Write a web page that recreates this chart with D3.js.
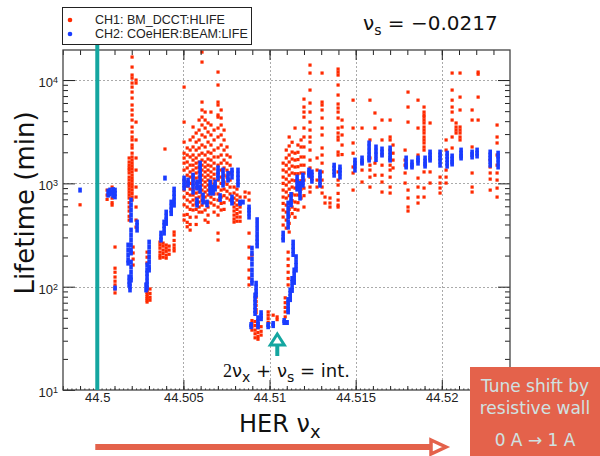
<!DOCTYPE html>
<html>
<head>
<meta charset="utf-8">
<script src="https://cdn.jsdelivr.net/npm/d3@7"></script>
<style>
  body { margin: 0; background: #fff; }
  svg text { font-family: "DejaVu Sans", sans-serif; }
</style>
</head>
<body>
<div id="chart"></div>
<script>
// CH1 (BM_DCCT:HLIFE): [HER tune, lifetimes (min) recorded at that tune]
const ch1Columns = [
  [44.49900, [620]],
  [44.50057, [860, 770, 700]],
  [44.50086, [921, 824, 720, 650, 616]],
  [44.50103, [242, 151, 138, 124, 113, 104, 95, 87]],
  [44.50185, [1760, 1610, 1500, 1410, 1345, 1260, 1150, 1076, 1000, 940, 880, 824, 771, 721, 650, 590, 540, 480, 441]],
  [44.50202, [16700, 13360, 11180, 10450, 9350, 8550, 7650, 6700, 5730, 5130, 4590, 4100, 3510, 3140, 2810, 2630, 2350, 2200, 1960, 1800, 1680, 1570, 1470, 1380, 1290, 1200, 1120, 1050, 980, 920, 860, 800, 740, 690]],
  [44.50208, [242, 212, 185, 162]],
  [44.50225, [10000, 9350, 3920, 2630, 1760, 1345, 921, 737, 590, 441, 377]],
  [44.50289, [216, 193, 170, 97, 92, 88, 84, 80, 77, 74, 71]],
  [44.50306, [95, 86, 79, 74]],
  [44.50364, [270, 253, 236, 216, 200, 189]],
  [44.50382, [264, 247, 226, 210, 193]],
  [44.50393, [2150]],
  [44.50400, [253, 236, 220, 202, 189]],
  [44.50417, [247, 226, 206]],
  [44.50446, [338, 316, 280, 253, 236, 222]],
  [44.50504, [8550, 3920, 2510, 1960, 1760, 1570, 1345, 1076, 861, 737, 620, 493, 441]],
  [44.50522, [2200, 1880, 1610, 1410, 1200, 1030, 940, 800, 690, 590, 500, 420, 380]],
  [44.50539, [2630, 2100, 1800, 1500, 1290, 1150, 1000, 880, 770, 660, 560, 470, 400, 353]],
  [44.50556, [3510, 2810, 2250, 1880, 1680, 1500, 1345, 1200, 1076, 963, 861, 771, 690, 616, 552]],
  [44.50574, [3070, 2510, 2100, 1760, 1570, 1410, 1260, 1125, 1007, 901, 806, 721, 645, 560, 472, 400]],
  [44.50591, [4100, 3280, 2630, 2200, 1880, 1610, 1440, 1290, 1150, 1030, 921, 824, 737, 659, 590, 527]],
  [44.50608, [18660, 14930, 6120, 5130, 4380, 3670, 2940, 2350, 1960, 1680, 1500, 1345, 1200, 1076, 963, 861, 771, 689, 616, 527]],
  [44.50626, [4900, 4100, 3430, 2810, 2250, 1880, 1610, 1440, 1290, 1150, 1030, 921, 824, 737, 659, 552, 441]],
  [44.50643, [3840, 3140, 2510, 2010, 1720, 1500, 1345, 1200, 1076, 963, 861, 771, 659, 590, 493, 420]],
  [44.50660, [4900, 3670, 2940, 2350, 1960, 1680, 1470, 1290, 1150, 1030, 921, 824, 737, 645]],
  [44.50678, [3280, 2630, 2100, 1800, 1570, 1380, 1226, 1100, 980, 880, 790, 700, 616, 527]],
  [44.50701, [11950, 8950, 6120, 5730, 4590, 4380, 3430, 2810, 2200, 1800, 1500, 1260, 1076, 921, 790, 689, 590, 493, 330, 283]],
  [44.50719, [5130, 4290, 3670, 2940, 2350, 1880, 1570, 1345, 1150, 1000, 861, 737, 640, 552]],
  [44.50736, [3280, 2630, 2100, 1680, 1410, 1200, 1030, 880, 760, 650, 560]],
  [44.50753, [2250, 1880, 1570, 1340, 1150, 980, 840, 720]],
  [44.50771, [1800, 1500, 1260, 1076, 920, 790, 690]],
  [44.50794, [921, 806, 720, 645, 590, 540, 493, 452, 422]],
  [44.50811, [880, 771, 689, 616, 560, 510, 472, 430]],
  [44.50829, [737, 659, 590, 527, 472, 430]],
  [44.50858, [824, 737]],
  [44.50881, [806, 689, 330, 242, 189, 145, 121, 104]],
  [44.50898, [202, 47, 44, 41, 38]],
  [44.50916, [46, 42, 38, 35, 32]],
  [44.50922, [79, 72, 66, 60, 56]],
  [44.50933, [44, 40, 36, 33, 31]],
  [44.50951, [41, 37, 34]],
  [44.50992, [57, 53, 49, 45]],
  [44.51021, [53]],
  [44.51044, [51, 48]],
  [44.51079, [1570, 1345, 1150, 1000, 861, 737, 640, 552, 472, 395]],
  [44.51091, [78, 70, 63, 57, 51]],
  [44.51097, [2100, 1760, 1500, 1290, 1100, 963, 824, 720, 616, 527, 441, 369]],
  [44.51108, [216, 185, 160, 138, 120, 104]],
  [44.51114, [2810, 2300, 1880, 1610, 1380, 1200, 1030, 880, 760, 650, 560, 480, 410, 338]],
  [44.51131, [2500, 2010, 1720, 1470, 1260, 1076, 921, 790, 680, 590, 510]],
  [44.51148, [3430, 1960, 1680, 1440, 1240, 1060, 900, 771, 660, 560, 470]],
  [44.51165, [2350, 2000, 1700, 1450, 1240, 1060, 900, 771, 650, 552]],
  [44.51183, [2630, 2250, 1800, 1500, 1260, 1060, 880, 720]],
  [44.51200, [6540, 5480, 4900, 4380, 3430, 2810, 2250, 1800, 1500, 1260, 1076, 900, 760, 590]],
  [44.51235, [13960, 11690, 8000, 5990, 4900, 3920, 3280, 2810, 2510, 2100, 1680, 1410, 1150, 921, 824]],
  [44.51276, [1760, 1345, 1076, 921]],
  [44.51305, [11690, 6120, 5730, 5130, 4290, 3430, 2940, 2200, 1880, 1570, 1290, 1076, 921, 806]],
  [44.51322, [737, 645]],
  [44.51351, [721, 645, 590]],
  [44.51398, [12780, 11950, 11180, 8950, 7160, 5860, 5360, 4900, 4290, 3430, 3070, 2810, 2630, 2010, 1880, 1290, 1076, 963, 800, 689, 616, 590]],
  [44.51421, [4100, 3510, 2940, 2350, 1900]],
  [44.51485, [6390, 3430, 2460, 1960, 1440, 1260, 861]],
  [44.51537, [3430, 1570, 1345, 1030]],
  [44.51583, [6390, 2630, 1760, 1500, 1345, 1150, 921]],
  [44.51612, [4800, 3430, 1570, 1200]],
  [44.51653, [4100, 2630, 1880, 1500, 1200, 1030, 824]],
  [44.51700, [4100, 2810, 2630, 2100, 1680, 1500, 1345, 1150, 921, 806]],
  [44.51717, [2350, 1960, 1680, 1410]],
  [44.51787, [2100, 1680, 1500, 1260, 1007]],
  [44.51804, [7650, 5480, 3920, 861, 721, 590, 540]],
  [44.51862, [6390, 3430, 1880, 1125, 921, 737, 645]],
  [44.51897, [5480, 4900, 4590, 4380, 4100, 3840, 3510, 3280, 3070, 2810, 2630, 2460, 2250, 2100, 1290, 901, 737]],
  [44.51932, [3840, 1290, 1007]],
  [44.51990, [1150, 1007, 901, 806]],
  [44.52025, [2630, 2100, 1345, 1150, 1007]],
  [44.52060, [11690, 8000, 6390, 5480, 4900, 4100, 2810, 2200]],
  [44.52083, [3840, 3510, 3280, 3070]],
  [44.52106, [11690, 6840, 5130, 3510, 3280, 3070, 2810, 2630]],
  [44.52176, [5130, 4100, 2250, 1260, 921, 824]],
  [44.52211, [11950, 11400, 6840, 4100]],
  [44.52281, [1680, 1440, 1260, 1100, 861]],
  [44.52321, [3670, 2810, 2460, 1880, 1500, 1260, 1076, 900, 737]]
];

// CH2 (COeHER:BEAM:LIFE)
const ch2Columns = [
  [44.49900, [861]],
  [44.50063, [840, 770]],
  [44.50074, [861, 790]],
  [44.50092, [870, 820, 760]],
  [44.50103, [860, 800, 740, 97]],
  [44.50179, [253, 226, 202, 181, 169]],
  [44.50185, [124, 113, 104]],
  [44.50190, [108, 100, 93]],
  [44.50196, [689, 616, 552, 493, 441, 353, 316, 283, 253, 226, 212, 173, 155, 138, 124, 116]],
  [44.50231, [422, 390, 353]],
  [44.50283, [104, 93]],
  [44.50289, [162, 145, 135, 124, 113, 104, 97]],
  [44.50301, [270, 242, 216, 193, 173, 155, 145]],
  [44.50370, [330, 302, 283]],
  [44.50388, [422, 390, 360, 330]],
  [44.50393, [1125]],
  [44.50400, [527, 480, 441, 410]],
  [44.50429, [659, 600, 552, 510]],
  [44.50446, [880, 800, 737, 675, 616]],
  [44.50504, [1125, 1030, 960, 901]],
  [44.50527, [1076, 1007, 963]],
  [44.50556, [1200, 1100, 1007, 921, 824]],
  [44.50579, [1030, 963, 901, 689, 645, 616]],
  [44.50597, [1570, 1440, 1345, 1226, 1125, 1030, 921, 840]],
  [44.50614, [771, 700, 660]],
  [44.50637, [659, 620]],
  [44.50655, [1030, 940, 880, 806]],
  [44.50672, [921, 861, 806]],
  [44.50684, [1030, 963, 880]],
  [44.50701, [1410, 1290, 1200, 1125]],
  [44.50713, [760, 700]],
  [44.50730, [1345, 1226, 1125, 1030, 963]],
  [44.50759, [1250, 1150, 1076]],
  [44.50782, [1345, 1260, 1150, 737, 689, 645]],
  [44.50817, [1345, 1226, 1125, 1030, 963]],
  [44.50829, [659, 640]],
  [44.50846, [659]],
  [44.50881, [590, 552, 516, 472]],
  [44.50893, [43, 41]],
  [44.50898, [236, 210, 185, 165, 145, 130, 116, 108]],
  [44.50916, [83, 76, 70, 64, 59, 55]],
  [44.50922, [108, 99, 90, 83]],
  [44.50928, [445, 400, 360, 325, 295, 270, 248]],
  [44.50933, [50, 46, 43, 41]],
  [44.50951, [56, 52, 49]],
  [44.50992, [43, 41]],
  [44.51021, [44, 42]],
  [44.51079, [330, 300, 283]],
  [44.51085, [47, 45]],
  [44.51102, [45]],
  [44.51108, [645, 580, 520, 470, 420, 377, 75, 70, 65, 60, 57]],
  [44.51120, [93, 86, 80, 75]],
  [44.51125, [780, 720, 660, 620]],
  [44.51131, [120, 110, 100, 92]],
  [44.51137, [270, 245, 225, 205]],
  [44.51143, [145, 132, 120, 110]],
  [44.51154, [195, 175, 160, 145]],
  [44.51160, [1150, 1050, 960, 880]],
  [44.51177, [1000, 921, 861, 790, 720]],
  [44.51194, [1200, 1100, 1030, 960]],
  [44.51229, [1345, 1260, 1200]],
  [44.51246, [1290, 1200, 1125, 1050]],
  [44.51293, [1290, 1200, 1125, 1040, 960]],
  [44.51375, [1500, 1400, 1300, 1200]],
  [44.51409, [1440, 1345, 1260, 1150]],
  [44.51496, [1680, 1570, 1470, 1345]],
  [44.51537, [1760, 1640, 1570]],
  [44.51578, [2460, 2250, 2050, 1880, 1760, 1680]],
  [44.51618, [2250, 2050, 1880, 1700]],
  [44.51653, [2150, 2010, 1880]],
  [44.51700, [2200, 2010, 1880, 1760, 1680]],
  [44.51793, [1760, 1610, 1500, 1440]],
  [44.51827, [1610, 1500, 1440]],
  [44.51862, [1760, 1680, 1570]],
  [44.51903, [1760, 1640, 1540, 1470]],
  [44.51932, [2010, 1880, 1760, 1680]],
  [44.51990, [2010, 1880, 1760, 1640, 1500]],
  [44.52031, [1960, 1830, 1700, 1570, 1470]],
  [44.52060, [1840, 1720, 1610, 1540]],
  [44.52112, [2100, 1960, 1840, 1760]],
  [44.52176, [2010, 1900, 1800]],
  [44.52205, [2100, 1960, 1840]],
  [44.52281, [2010, 1880, 1760, 1640, 1500]],
  [44.52327, [1960, 1840, 1720, 1570, 1440]]
];

const xTicks = [44.5, 44.505, 44.51, 44.515, 44.52];
const xTickLabels = ["44.5", "44.505", "44.51", "44.515", "44.52"];
const yDecades = [10, 100, 1000, 10000];
const yExponents = ["1", "2", "3", "4"];
const legendLabels = ["CH1: BM_DCCT:HLIFE", "CH2: COeHER:BEAM:LIFE"];
const nuS = "\u22120.0217";
const markerTune = 44.5;       // teal line
const resonanceTune = 44.51045; // teal arrow

const red = "#ff2a00", blue = "#1a3cff", teal = "#14a6a0", orange = "#e4624b";

const svg = d3.select("#chart").append("svg")
  .attr("width", 600).attr("height", 456);

const x = d3.scaleLinear().domain([44.49801, 44.52396]).range([63, 510]);
const y = d3.scaleLog().domain([10, 19540]).range([390, 50]);

const x0 = 63, x1 = 510, y0 = 390, y1 = 50;

// grid
const grid = svg.append("g").attr("stroke", "#aaa").attr("stroke-dasharray", "2,2").attr("stroke-width", 1);
grid.selectAll("line.gx").data(xTicks).join("line")
  .attr("x1", d => Math.round(x(d)) + 0.5).attr("x2", d => Math.round(x(d)) + 0.5)
  .attr("y1", y1).attr("y2", y0);
grid.selectAll("line.gy").data(yDecades.slice(1)).join("line")
  .attr("y1", d => Math.round(y(d)) + 0.5).attr("y2", d => Math.round(y(d)) + 0.5)
  .attr("x1", x0).attr("x2", x1);

// data
const ch1 = ch1Columns.flatMap(([t, ls]) => ls.map(l => ({t, l})));
const ch2 = ch2Columns.flatMap(([t, ls]) => ls.map(l => ({t, l})));

svg.append("clipPath").attr("id", "clip").append("rect")
  .attr("x", x0).attr("y", y1).attr("width", x1 - x0).attr("height", y0 - y1);

const plot = svg.append("g").attr("clip-path", "url(#clip)");
plot.append("g").selectAll("rect").data(ch1).join("rect")
  .attr("x", d => x(d.t) - 1.6).attr("y", d => y(d.l) - 1.6)
  .attr("width", 3.2).attr("height", 3.2).attr("fill", red);
plot.append("g").selectAll("rect").data(ch2).join("rect")
  .attr("x", d => x(d.t) - 1.8).attr("y", d => y(d.l) - 2.5)
  .attr("width", 3.6).attr("height", 5).attr("fill", blue);

// axes
const minorX = d3.range(-2, 24).map(i => 44.5 + i * 0.001);
const microX = d3.range(-8, 96).map(i => 44.5 + i * 0.00025);
const minorY = yDecades.flatMap(d => d3.range(2, 10).map(k => d * k)).filter(v => v < 19540);

function styleAxis(g) {
  g.select(".domain").remove();
  g.selectAll(".tick line").attr("stroke", "#222");
  g.selectAll("text").attr("fill", "#222").style("font-family", "Liberation Sans, Arial, sans-serif").style("font-size", "13px");
}

svg.append("g").attr("transform", `translate(0,${y0})`)
  .call(d3.axisBottom(x).tickValues(microX).tickSize(-1.5).tickFormat(""))
  .call(styleAxis);
svg.append("g").attr("transform", `translate(0,${y0})`)
  .call(d3.axisBottom(x).tickValues(minorX).tickSize(-4).tickFormat(""))
  .call(styleAxis);
svg.append("g").attr("transform", `translate(0,${y0})`)
  .call(d3.axisBottom(x).tickValues(xTicks).tickSize(-10).tickPadding(3).tickFormat((d, i) => xTickLabels[i]))
  .call(styleAxis);

svg.append("g").attr("transform", `translate(0,${y1})`)
  .call(d3.axisTop(x).tickValues(minorX).tickSize(-5).tickFormat(""))
  .call(styleAxis);
svg.append("g").attr("transform", `translate(0,${y1})`)
  .call(d3.axisTop(x).tickValues(xTicks).tickSize(-10).tickFormat(""))
  .call(styleAxis);

svg.append("g").attr("transform", `translate(${x0},0)`)
  .call(d3.axisLeft(y).tickValues(minorY).tickSize(-5).tickFormat(""))
  .call(styleAxis);
const yAx = svg.append("g").attr("transform", `translate(${x0},0)`)
  .call(d3.axisLeft(y).tickValues(yDecades).tickSize(-12).tickPadding(5).tickFormat(() => ""))
  .call(styleAxis);
yAx.selectAll(".tick text").attr("dy", "0.5em").each(function(d, i) {
  const t = d3.select(this);
  t.append("tspan").text("10");
  t.append("tspan").text(yExponents[i]).attr("dy", "-0.45em").style("font-size", "9px");
});

svg.append("g").attr("transform", `translate(${x1},0)`)
  .call(d3.axisRight(y).tickValues(minorY).tickSize(-5).tickFormat(""))
  .call(styleAxis);
svg.append("g").attr("transform", `translate(${x1},0)`)
  .call(d3.axisRight(y).tickValues(yDecades).tickSize(-12).tickFormat(""))
  .call(styleAxis);

// frame
svg.append("rect").attr("x", x0).attr("y", y1).attr("width", x1 - x0).attr("height", y0 - y1)
  .attr("fill", "none").attr("stroke", "#444").attr("stroke-width", 1.3);

// teal marker line at nu_x = 44.5
svg.append("line")
  .attr("x1", x(markerTune)).attr("x2", x(markerTune))
  .attr("y1", 44).attr("y2", y0)
  .attr("stroke", teal).attr("stroke-width", 4);

// legend
const leg = svg.append("g");
leg.append("rect").attr("x", 62.5).attr("y", 7.5).attr("width", 189).attr("height", 37)
  .attr("fill", "#fff").attr("stroke", "#222").attr("stroke-width", 1);
leg.selectAll("circle").data(legendLabels).join("circle")
  .attr("cx", 70).attr("cy", (d, i) => 20 + i * 14).attr("r", 2.3)
  .attr("fill", (d, i) => i === 0 ? red : blue);
leg.selectAll("text").data(legendLabels).join("text")
  .attr("x", 95).attr("y", (d, i) => 24 + i * 14)
  .style("font-family", "Liberation Sans, Arial, sans-serif").style("font-size", "12.5px")
  .attr("fill", "#222").text(d => d);

// nu_s annotation
const ns = svg.append("text").attr("x", 363).attr("y", 30).style("font-size", "20px").attr("fill", "#111");
ns.append("tspan").text("\u03bd");
ns.append("tspan").text("s").attr("dy", 5).style("font-size", "14px");
ns.append("tspan").text(" = " + nuS).attr("dy", -5);

// axis titles
svg.append("text").attr("transform", "translate(34,203) rotate(-90)")
  .attr("text-anchor", "middle").style("font-size", "26px").attr("fill", "#111")
  .text("Lifetime (min)");
const xl = svg.append("text").attr("x", 239).attr("y", 432).style("font-size", "24px").attr("fill", "#111");
xl.append("tspan").text("HER \u03bd");
xl.append("tspan").text("x").attr("dy", 6).style("font-size", "18px");

// resonance annotation
const res = svg.append("text").attr("x", 223).attr("y", 377).style("font-size", "18px").attr("fill", "#111");
res.append("tspan").text("2").style("font-family", "Liberation Serif, serif");
res.append("tspan").text("\u03bd");
res.append("tspan").text("x").attr("dy", 5).style("font-size", "14px");
res.append("tspan").text(" + \u03bd").attr("dy", -5);
res.append("tspan").text("s").attr("dy", 5).style("font-size", "14px");
res.append("tspan").text(" = int.").attr("dy", -5);

const ax = x(resonanceTune);
svg.append("line").attr("x1", ax).attr("x2", ax).attr("y1", 345).attr("y2", 356)
  .attr("stroke", teal).attr("stroke-width", 4);
svg.append("path").attr("d", `M${ax - 7},345 L${ax},334 L${ax + 7},345 Z`)
  .attr("fill", "#fff").attr("stroke", teal).attr("stroke-width", 3).attr("stroke-linejoin", "miter");

// tune shift arrow and box
svg.append("line").attr("x1", x(markerTune) - 2).attr("x2", 432).attr("y1", 447).attr("y2", 447)
  .attr("stroke", orange).attr("stroke-width", 6);
svg.append("path").attr("d", "M431,440 L446,447 L431,454 Z")
  .attr("fill", "#fff").attr("stroke", orange).attr("stroke-width", 3.5);

svg.append("rect").attr("x", 470).attr("y", 367).attr("width", 130).attr("height", 89).attr("fill", orange);
const boxLines = ["Tune shift by", "resistive wall", "0 A \u2192 1 A"];
const boxY = [392, 414, 446];
svg.selectAll("text.box").data(boxLines).join("text").attr("class", "box")
  .attr("x", 535).attr("y", (d, i) => boxY[i]).attr("text-anchor", "middle")
  .style("font-size", "17px").attr("fill", "#cfe2e2").text(d => d);
</script>
</body>
</html>
